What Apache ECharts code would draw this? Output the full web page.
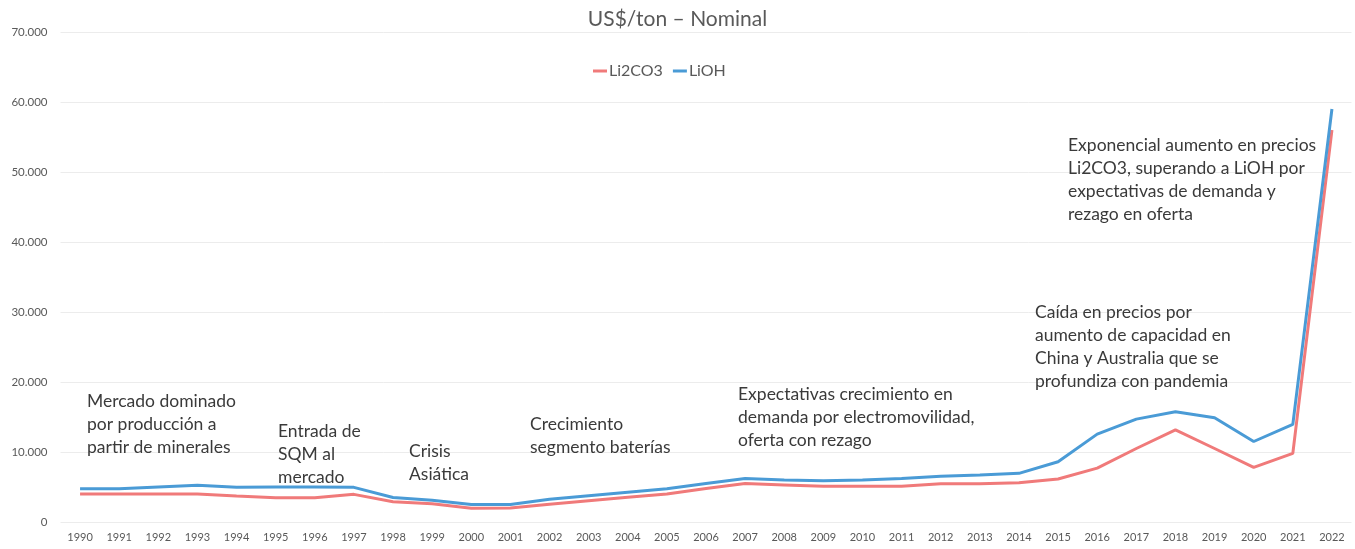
<!DOCTYPE html>
<html>
<head>
<meta charset="utf-8">
<script src="https://cdn.jsdelivr.net/npm/echarts@6/dist/echarts.min.js"></script>
<style>
  html, body { margin: 0; padding: 0; background: #fff; }
  #chart { width: 1355px; height: 549px; }
</style>
</head>
<body>
<div id="chart"></div>
<script>
const years = [
  "1990", "1991", "1992", "1993", "1994", "1995", "1996", "1997", "1998", "1999",
  "2000", "2001", "2002", "2003", "2004", "2005", "2006", "2007", "2008", "2009",
  "2010", "2011", "2012", "2013", "2014", "2015", "2016", "2017", "2018", "2019",
  "2020", "2021", "2022"
];
const li2co3 = [
  4000, 4000, 4000, 4000, 3700, 3450, 3450, 3950, 2900, 2600,
  1950, 2000, 2550, 3050, 3550, 4000, 4800, 5500, 5300, 5100,
  5100, 5100, 5450, 5450, 5600, 6150, 7700, 10500, 13150, 10500,
  7800, 9800, 56000
];
const lioh = [
  4750, 4750, 5000, 5250, 4950, 5000, 5000, 4950, 3500, 3100,
  2500, 2500, 3250, 3750, 4250, 4750, 5500, 6200, 6000, 5900,
  6000, 6200, 6550, 6700, 6950, 8600, 12550, 14700, 15750, 14900,
  11500, 13950, 59000
];
const yTicks = { min: 0, max: 70000, step: 10000 };

const notes = [
  { text: "Mercado dominado\npor producción a\npartir de minerales", left: 87, top: 390 },
  { text: "Entrada de\nSQM al\nmercado", left: 278, top: 420 },
  { text: "Crisis\nAsiática", left: 409, top: 440 },
  { text: "Crecimiento\nsegmento baterías", left: 530, top: 413 },
  { text: "Expectativas crecimiento en\ndemanda por electromovilidad,\noferta con rezago", left: 738, top: 383 },
  { text: "Caída en precios por\naumento de capacidad en\nChina y Australia que se\nprofundiza con pandemia", left: 1035, top: 301 },
  { text: "Exponencial aumento en precios\nLi2CO3, superando a LiOH por\nexpectativas de demanda y\nrezago en oferta", left: 1068, top: 134 }
];

const font = "Lato, 'Open Sans', sans-serif";
const chart = echarts.init(document.getElementById("chart"));

chart.setOption({
  animation: false,
  backgroundColor: "#ffffff",
  textStyle: { fontFamily: font },
  title: {
    text: "US$/ton – Nominal",
    left: "center",
    top: 4,
    textStyle: { fontFamily: font, fontSize: 21, fontWeight: "normal", color: "#595959" }
  },
  legend: {
    top: 58,
    left: 588,
    itemGap: 10,
    itemWidth: 14,
    itemHeight: 3,
    icon: "rect",
    textStyle: { fontFamily: font, fontSize: 16, color: "#595959", padding: [0, 0, 0, -3] },
    data: ["Li2CO3", "LiOH"]
  },
  grid: { left: 60.5, right: 3.5, top: 32, bottom: 27 },
  xAxis: {
    type: "category",
    data: years,
    boundaryGap: true,
    axisLine: { show: false },
    axisTick: { show: false },
    axisLabel: { color: "#595959", fontSize: 11, margin: 10, interval: 0 }
  },
  yAxis: {
    type: "value",
    min: yTicks.min,
    max: yTicks.max,
    interval: yTicks.step,
    axisLine: { show: false },
    axisTick: { show: false },
    splitLine: { lineStyle: { color: "#ececec", width: 1 } },
    axisLabel: {
      color: "#595959",
      fontSize: 11.5,
      margin: 13,
      formatter: v => v === 0 ? "0" : String(v).replace(/\B(?=(\d{3})+(?!\d))/g, ".")
    }
  },
  series: [
    {
      name: "Li2CO3",
      type: "line",
      data: li2co3,
      symbol: "none",
      lineStyle: { color: "#f07a7a", width: 3 },
      itemStyle: { color: "#f07a7a" }
    },
    {
      name: "LiOH",
      type: "line",
      data: lioh,
      symbol: "none",
      lineStyle: { color: "#4a9bd6", width: 3 },
      itemStyle: { color: "#4a9bd6" }
    }
  ],
  graphic: notes.map(n => ({
    type: "text",
    left: n.left,
    top: n.top,
    z: 100,
    style: {
      text: n.text,
      fontFamily: font,
      fontSize: 17.5,
      lineHeight: 23,
      fill: "#3a3a3a"
    }
  }))
});
</script>
</body>
</html>
